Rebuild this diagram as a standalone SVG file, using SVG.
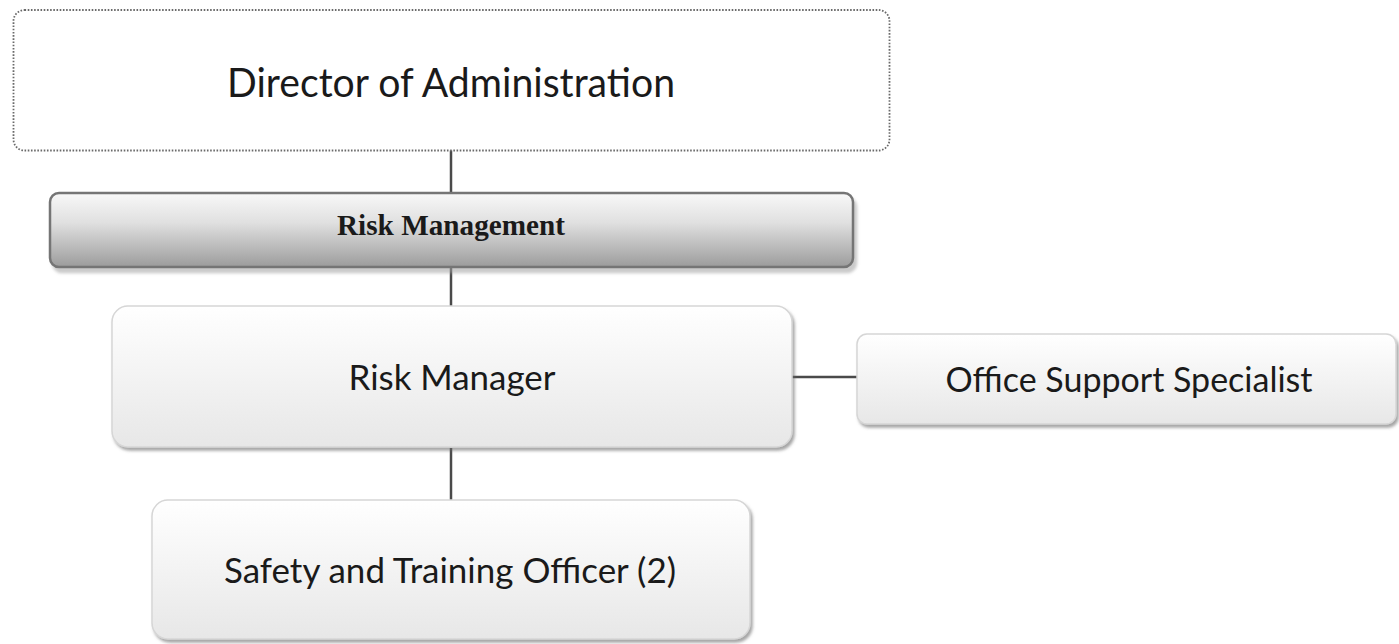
<svg xmlns="http://www.w3.org/2000/svg" width="1399" height="644" viewBox="0 0 1399 644">
  <defs>
    <linearGradient id="gBar" x1="0" y1="0" x2="0" y2="1">
      <stop offset="0" stop-color="#f8f8f8"/>
      <stop offset="0.4" stop-color="#e0e0e0"/>
      <stop offset="1" stop-color="#9c9c9c"/>
    </linearGradient>
    <linearGradient id="gLight" x1="0" y1="0" x2="0" y2="1">
      <stop offset="0" stop-color="#ffffff"/>
      <stop offset="1" stop-color="#e7e7e7"/>
    </linearGradient>
    <filter id="shadow" x="-5%" y="-10%" width="115%" height="130%">
      <feDropShadow dx="2" dy="3" stdDeviation="1.5" flood-color="#6a6a6a" flood-opacity="0.6"/>
    </filter>
    <filter id="shadowBar" x="-5%" y="-10%" width="115%" height="140%">
      <feDropShadow dx="3" dy="5" stdDeviation="1.5" flood-color="#a0a0a0" flood-opacity="0.55"/>
    </filter>
  </defs>
  <style>
    .lbl { font-family: Lato, "Open Sans", "Liberation Sans", sans-serif; fill: #1a1a1a; text-anchor: middle; }
    .bar { font-family: "Liberation Serif", "DejaVu Serif", serif; font-weight: bold; fill: #1a1a1a; text-anchor: middle; }
    .light { fill: url(#gLight); stroke: #d6d6d6; stroke-width: 1.5; filter: url(#shadow); }
    .conn { stroke: #4a4a4a; stroke-width: 2.5; fill: none; }
  </style>
  <rect width="1399" height="644" fill="#ffffff"/>

  <g id="connectors">
    <line class="conn" x1="451" y1="150" x2="451" y2="193"/>
    <line class="conn" x1="451" y1="267" x2="451" y2="307"/>
    <line class="conn" x1="451" y1="448" x2="451" y2="500"/>
    <line class="conn" x1="792" y1="377" x2="857" y2="377" stroke="#1e1e1e" stroke-width="2"/>
  </g>

  <g id="director">
    <rect x="13.5" y="10" width="876" height="140.5" rx="11" fill="#ffffff" stroke="#6a6a6a" stroke-width="1.8" stroke-dasharray="1.6 1.6"/>
    <text class="lbl" x="451" y="97" font-size="41" textLength="448" lengthAdjust="spacingAndGlyphs">Director of Administration</text>
  </g>

  <g id="risk-management">
    <rect x="50" y="193" width="803" height="74" rx="9" fill="url(#gBar)" stroke="#747474" stroke-width="2.5" filter="url(#shadowBar)"/>
    <text class="bar" x="451" y="235" font-size="29" textLength="228" lengthAdjust="spacingAndGlyphs">Risk Management</text>
  </g>

  <g id="risk-manager">
    <rect class="light" x="112" y="306" width="680" height="141" rx="16"/>
    <text class="lbl" x="452" y="390" font-size="35" textLength="207" lengthAdjust="spacingAndGlyphs">Risk Manager</text>
  </g>

  <g id="office-support">
    <rect class="light" x="857" y="334" width="539" height="90" rx="10"/>
    <text class="lbl" x="1129" y="392" font-size="35" textLength="367" lengthAdjust="spacingAndGlyphs">Office Support Specialist</text>
  </g>

  <g id="safety-training">
    <rect class="light" x="152" y="500" width="598" height="139" rx="16"/>
    <text class="lbl" x="450" y="583" font-size="35" textLength="452" lengthAdjust="spacingAndGlyphs">Safety and Training Officer (2)</text>
  </g>
</svg>
